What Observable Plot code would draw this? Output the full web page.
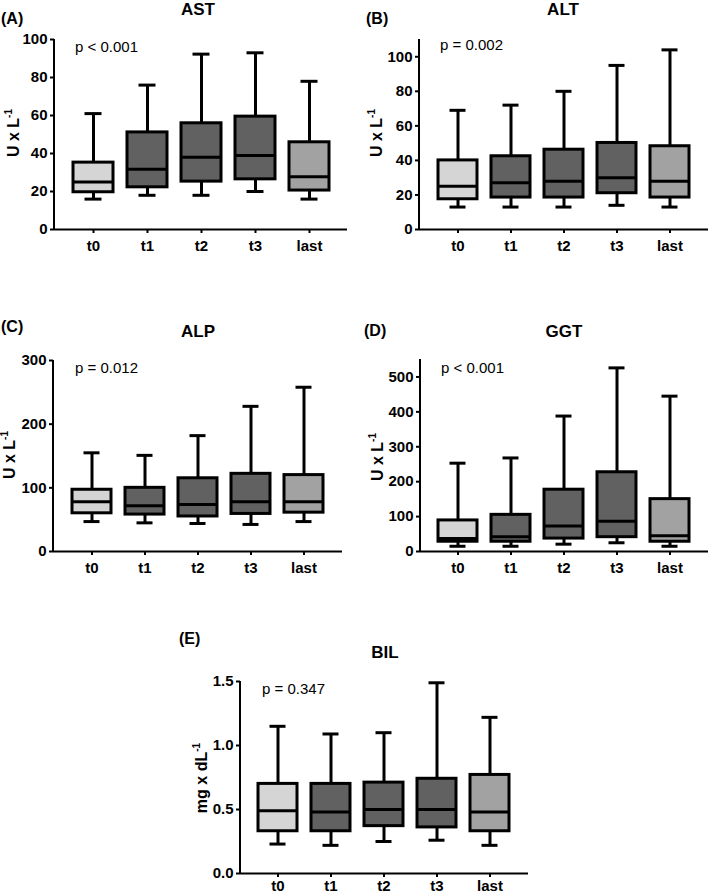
<!DOCTYPE html>
<html><head><meta charset="utf-8">
<script src="https://cdn.jsdelivr.net/npm/d3@7"></script>
<script src="https://cdn.jsdelivr.net/npm/@observablehq/plot@0.6"></script>
<style>
body{margin:0;background:#fff;font-family:"Liberation Sans",Arial,sans-serif;color:#000;}
#root{position:relative;width:709px;height:893px;overflow:hidden;}
.abs{position:absolute;white-space:nowrap;line-height:1;}
.panel{position:absolute;}
.ylab{position:absolute;white-space:nowrap;font-weight:bold;font-size:16px;line-height:1;transform:translate(-50%,-50%) rotate(-90deg);}
.ylab sup{font-size:10px;vertical-align:7px;line-height:0;}
</style></head><body><div id="root"></div>
<script>
// ---- data ----
const categories = ["t0","t1","t2","t3","last"];
const boxFills = ["#d5d5d5","#616161","#616161","#616161","#a2a2a2"];

const astMin = [16, 18, 18, 20, 16];
const astQ1  = [19.6, 22.2, 25.2, 26.4, 20.5];
const astMed = [25, 31.7, 38, 38.9, 27.8];
const astQ3  = [35.2, 51.1, 55.9, 59.4, 45.9];
const astMax = [61, 76, 92.3, 93, 78];
const astTicks = [0, 20, 40, 60, 80, 100];

const altMin = [13, 13, 13, 14, 13];
const altQ1  = [17.5, 18.5, 18.5, 21, 18.5];
const altMed = [25, 27, 28, 30, 28];
const altQ3  = [40, 42.4, 46.2, 50.1, 48.2];
const altMax = [69, 72, 80, 95, 104];
const altTicks = [0, 20, 40, 60, 80, 100];

const alpMin = [47, 45, 44, 42.5, 47];
const alpQ1  = [60, 58, 55, 59, 61];
const alpMed = [78, 72, 74, 78, 78];
const alpQ3  = [97, 100, 115, 122, 120];
const alpMax = [155, 151, 182, 228, 258];
const alpTicks = [0, 100, 200, 300];

const ggtMin = [15, 15, 21, 25, 15];
const ggtQ1  = [28, 28, 37, 41, 28];
const ggtMed = [37, 42, 73, 87, 45];
const ggtQ3  = [89, 105, 177, 227, 150];
const ggtMax = [253, 268, 388, 526, 445];
const ggtTicks = [0, 100, 200, 300, 400, 500];

const bilMin = [0.23, 0.22, 0.25, 0.26, 0.22];
const bilQ1  = [0.33, 0.33, 0.37, 0.36, 0.33];
const bilMed = [0.49, 0.48, 0.50, 0.50, 0.48];
const bilQ3  = [0.70, 0.70, 0.71, 0.74, 0.77];
const bilMax = [1.15, 1.09, 1.10, 1.49, 1.22];
const bilTicks = [0, 0.5, 1.0, 1.5];

const panelLetters = ["(A)","(B)","(C)","(D)","(E)"];
const panelTitles = ["AST","ALT","ALP","GGT","BIL"];
const pValues = ["p < 0.001","p = 0.002","p = 0.012","p < 0.001","p = 0.347"];
const unitBase = ["U x L","U x L","U x L","U x L","mg x dL"];
const unitSup = "-1";

// ---- layout ----
const panels = [
  {mins:astMin,q1:astQ1,med:astMed,q3:astQ3,maxs:astMax,ticks:astTicks,domain:[0,100],fmt:d3.format("d"),
   left:0,top:30,width:352,height:235,ml:54,mr:5,mt:9,mb:36,tp:7,
   letter:[1,25],title:[198,15],p:[75,52],ylab:[14,133]},
  {mins:altMin,q1:altQ1,med:altMed,q3:altQ3,maxs:altMax,ticks:altTicks,domain:[0,110],fmt:d3.format("d"),
   left:355,top:30,width:354,height:235,ml:64,mr:1,mt:9,mb:36,tp:7,
   letter:[366,25],title:[563,15],p:[440,50],ylab:[377,133]},
  {mins:alpMin,q1:alpQ1,med:alpMed,q3:alpQ3,maxs:alpMax,ticks:alpTicks,domain:[0,300],fmt:d3.format("d"),
   left:0,top:350,width:352,height:237,ml:53,mr:10,mt:10,mb:36,tp:7,
   letter:[1,333],title:[198,337],p:[75,373],ylab:[10,455]},
  {mins:ggtMin,q1:ggtQ1,med:ggtMed,q3:ggtQ3,maxs:ggtMax,ticks:ggtTicks,domain:[0,550],fmt:d3.format("d"),
   left:355,top:350,width:354,height:237,ml:65,mr:1,mt:9,mb:36,tp:7,
   letter:[364,337],title:[564,337],p:[441,373],ylab:[378,457]},
  {mins:bilMin,q1:bilQ1,med:bilMed,q3:bilQ3,maxs:bilMax,ticks:bilTicks,domain:[0,1.5],fmt:d3.format(".1f"),
   left:180,top:671,width:352,height:221,ml:60,mr:4,mt:10,mb:19,tp:3,
   letter:[179,645],title:[385,658],p:[262,694],ylab:[202,778]}
];

const root = document.getElementById("root");

function addText(txt, x, baseline, fs, weight, anchor) {
  const d = document.createElement("div");
  d.className = "abs";
  d.textContent = txt;
  d.style.fontSize = fs + "px";
  d.style.fontWeight = weight;
  d.style.top = (baseline - 0.85 * fs) + "px";
  d.style.left = x + "px";
  if (anchor === "middle") d.style.transform = "translateX(-50%)";
  root.appendChild(d);
}

panels.forEach((P, i) => {
  const rows = categories.map((c, k) => ({cat: c, min: P.mins[k], q1: P.q1[k], med: P.med[k], q3: P.q3[k], max: P.maxs[k]}));
  const plot = Plot.plot({
    width: P.width, height: P.height,
    marginLeft: P.ml, marginRight: P.mr, marginTop: P.mt, marginBottom: P.mb,
    style: {fontFamily: "'Liberation Sans', Arial, sans-serif", fontSize: "15px", fontWeight: "bold", color: "#000", background: "transparent", overflow: "visible"},
    x: {domain: categories, paddingInner: 0.26, paddingOuter: 0.34},
    y: {domain: P.domain},
    color: {domain: categories, range: boxFills},
    marks: [
      Plot.ruleX(rows, {x: "cat", y1: "min", y2: "max", stroke: "#000", strokeWidth: 3}),
      Plot.tickY(rows, {x: "cat", y: "min", insetLeft: 11.5, insetRight: 11.5, stroke: "#000", strokeWidth: 3}),
      Plot.tickY(rows, {x: "cat", y: "max", insetLeft: 11.5, insetRight: 11.5, stroke: "#000", strokeWidth: 3}),
      Plot.barY(rows, {x: "cat", y1: "q1", y2: "q3", fill: "cat", stroke: "#000", strokeWidth: 3}),
      Plot.tickY(rows, {x: "cat", y: "med", stroke: "#000", strokeWidth: 3}),
      Plot.ruleY([P.domain[0]], {stroke: "#000", strokeWidth: 2}),
      Plot.axisY({ticks: P.ticks, tickFormat: P.fmt, tickSize: 4, tickPadding: 3, strokeWidth: 2, label: null}),
      Plot.axisX({tickSize: 4, tickPadding: P.tp, strokeWidth: 2, label: null})
    ]
  });
  // y axis line along the left edge of the frame, from the y scale's range
  const ys = plot.scale("y");
  d3.select(plot).append("line")
    .attr("x1", P.ml).attr("x2", P.ml)
    .attr("y1", ys.range[0] + 1).attr("y2", ys.range[1])
    .attr("stroke", "#000").attr("stroke-width", 2);
  const wrap = document.createElement("div");
  wrap.className = "panel";
  wrap.style.left = P.left + "px";
  wrap.style.top = P.top + "px";
  wrap.appendChild(plot);
  root.appendChild(wrap);

  addText(panelLetters[i], P.letter[0], P.letter[1], 16, "bold", "start");
  addText(panelTitles[i], P.title[0], P.title[1], 17, "bold", "middle");
  addText(pValues[i], P.p[0], P.p[1], 15, "normal", "start");
  const yl = document.createElement("div");
  yl.className = "ylab";
  yl.style.left = P.ylab[0] + "px";
  yl.style.top = P.ylab[1] + "px";
  yl.innerHTML = unitBase[i] + "<sup>" + unitSup + "</sup>";
  root.appendChild(yl);
});
</script>
</body></html>
